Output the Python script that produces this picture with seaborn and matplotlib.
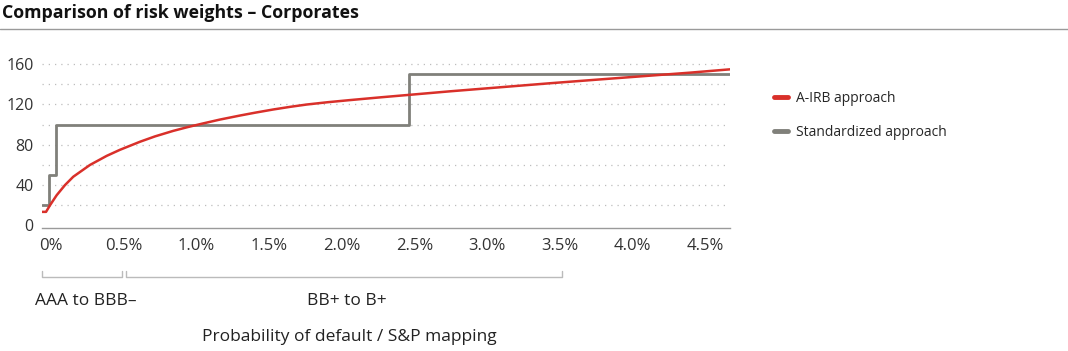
import numpy as np
import pandas as pd
import matplotlib
matplotlib.use("Agg")
import matplotlib.pyplot as plt
import matplotlib.transforms as mtransforms
from matplotlib.lines import Line2D
import seaborn as sns

# Data (PD in %, risk weight in %)
airb_pd = [0.0, 0.028, 0.055, 0.101, 0.158, 0.215, 0.33, 0.445, 0.536, 0.674, 0.777, 0.903,
           1.004, 1.109, 1.224, 1.362, 1.465, 1.591, 1.706, 1.820, 1.965, 2.118, 2.325, 2.526,
           2.806, 3.150, 3.494, 3.838, 4.133, 4.457, 4.732]
airb_rw = [13.5, 13.5, 20, 30, 40, 48.3, 60, 69, 75, 83, 88.3, 93.8,
           97.6, 101.2, 105, 109, 111.8, 115, 117.6, 119.9, 122.2, 124.3, 127, 129.5,
           133, 137, 141, 144.8, 148, 151.5, 154.8]
std_pd = [0.0, 0.05, 0.094, 2.526, 4.732]
std_rw = [20, 50, 100, 150, 150]
x_ticks = [0, 0.5, 1.0, 1.5, 2.0, 2.5, 3.0, 3.5, 4.0, 4.5]
x_tick_labels = ["0%", "0.5%", "1.0%", "1.5%", "2.0%", "2.5%", "3.0%", "3.5%", "4.0%", "4.5%"]
y_ticks = [0, 40, 80, 120, 160]

red = "#d9302a"
grey = "#80807a"

sns.set_style("white")
plt.rcParams['font.family'] = ['Open Sans', 'DejaVu Sans']

df_airb = pd.DataFrame({'PD': airb_pd, 'RW': airb_rw})
df_std = pd.DataFrame({'PD': std_pd, 'RW': std_rw})

fig = plt.figure(figsize=(10.68, 3.51), dpi=100)
ax = fig.add_axes([0.0393, 1 - 228 / 351, 688 / 1068, 174 / 351])

# grid lines every 20
for g in range(20, 180, 20):
    ax.axhline(g, color="#bdbdbd", lw=0.9, ls=(0, (1, 4)), zorder=0)

sns.lineplot(data=df_std, x='PD', y='RW', ax=ax, color=grey, lw=2, drawstyle='steps-post', zorder=3)
sns.lineplot(data=df_airb, x='PD', y='RW', ax=ax, color=red, lw=1.8, zorder=4)

ax.set_xlim(0, 4.732)
ax.set_ylim(-2.5, 170)
ax.set_xticks(x_ticks)
ax.set_xticklabels(x_tick_labels)
ax.set_yticks(y_ticks)
ax.tick_params(axis='both', length=0, colors="#333333")
ax.tick_params(axis='x', pad=7, labelsize=12)
ax.tick_params(axis='y', pad=6, labelsize=11.5)
offset = mtransforms.ScaledTranslation(9 / 100, 0, fig.dpi_scale_trans)
for lab in ax.get_xticklabels():
    lab.set_transform(lab.get_transform() + offset)
ax.set_xlabel('')
ax.set_ylabel('')
for s in ['top', 'right', 'left']:
    ax.spines[s].set_visible(False)
ax.spines['bottom'].set_color("#9a9a9a")
ax.spines['bottom'].set_linewidth(1)

# title and rule
fig.text(0.002, 0.963, "Comparison of risk weights – Corporates", fontsize=12.8, fontweight='bold', va='center', ha='left', color="#111111")
fig.add_artist(Line2D([0, 1], [0.917, 0.917], transform=fig.transFigure, color="#9a9a9a", lw=1))

# rating brackets under the axis
trans = mtransforms.blended_transform_factory(ax.transData, fig.transFigure)
yb, yt = 0.2108, 0.228
for x0, x1 in [(0.0, 0.55), (0.58, 3.58)]:
    ax.plot([x0, x0, x1, x1], [yt, yb, yb, yt], transform=trans, color="#bbbbbb", lw=1, clip_on=False)
fig.text(35 / 1068, 0.1425, "AAA to BBB–", fontsize=12.5, ha='left', va='center', color="#222222")
fig.text(347 / 1068, 0.1425, "BB+ to B+", fontsize=12.5, ha='center', va='center', color="#222222")
fig.text(349 / 1068, 0.04, "Probability of default / S&P mapping", fontsize=12.5, ha='center', va='center', color="#222222")

# legend
handles = [Line2D([0], [0], color=red, lw=3.5, solid_capstyle='round'),
           Line2D([0], [0], color=grey, lw=3.5, solid_capstyle='round')]
fig.legend(handles, ["A-IRB approach", "Standardized approach"], loc='upper left',
           bbox_to_anchor=(0.713, 0.777), frameon=False, fontsize=10,
           handlelength=1.0, handletextpad=0.6, labelspacing=1.35)

fig.savefig("out.png", dpi=100)
